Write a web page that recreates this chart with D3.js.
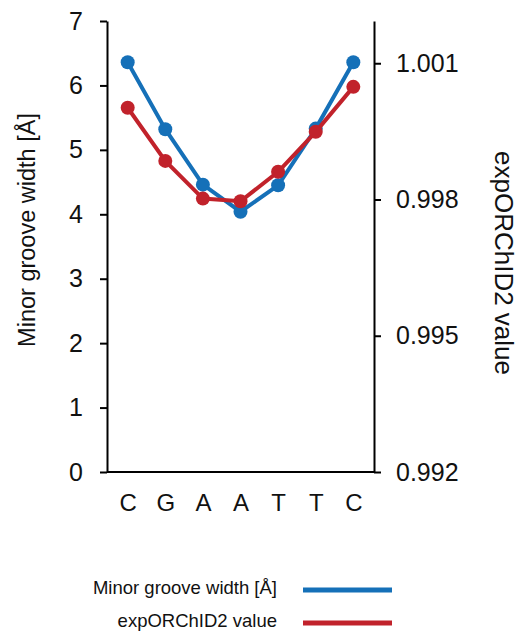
<!DOCTYPE html>
<html>
<head>
<meta charset="utf-8">
<script src="https://cdn.jsdelivr.net/npm/d3@7"></script>
<style>
  body { margin: 0; background: #fff; }
  svg text { font-family: "Liberation Sans", Arial, Helvetica, sans-serif; fill: #111; }
</style>
</head>
<body>
<svg id="chart" width="519" height="634"></svg>
<script>
// bases along the x axis
let bases = ["C", "G", "A", "A", "T", "T", "C"];
// minor groove width in angstrom (left axis)
let grooveWidth = [6.36, 5.32, 4.46, 4.04, 4.45, 5.33, 6.36];
// expORChID2 value (right axis)
let orchidValue = [1.00002, 0.99885, 0.99802, 0.99796, 0.99861, 0.99949, 1.00048];
let leftTicks = [0, 1, 2, 3, 4, 5, 6, 7];
let rightTicks = [0.992, 0.995, 0.998, 1.001];
let seriesNames = ["Minor groove width [Å]", "expORChID2 value"];

let blue = "#1570b8", red = "#c1222b";

let svg = d3.select("#chart");
let x0 = 107, x1 = 374, yTop = 21, yBot = 472;

let x = d3.scalePoint()
    .domain(d3.range(bases.length))
    .range([x0, x1])
    .padding(0.55);

let yL = d3.scaleLinear().domain([0, 7]).range([yBot, yTop]);
let yR = d3.scaleLinear().domain([0.992, 1.00193]).range([yBot, yTop]);

// left axis
let gL = svg.append("g")
    .attr("transform", "translate(" + x0 + ",0)")
    .call(d3.axisLeft(yL).tickValues(leftTicks).tickFormat(d3.format("d"))
      .tickSize(7).tickSizeOuter(0).tickPadding(17));

// right axis
let gR = svg.append("g")
    .attr("transform", "translate(" + x1 + ",0)")
    .call(d3.axisRight(yR).tickValues(rightTicks).tickFormat(d3.format(".3f"))
      .tickSize(7).tickSizeOuter(0).tickPadding(15));

[gL, gR].forEach(g => {
  g.select(".domain").attr("stroke", "#000").attr("stroke-width", 2);
  g.selectAll(".tick line").attr("stroke", "#000").attr("stroke-width", 2);
  g.selectAll(".tick text").attr("font-size", 25).style("font-family", "Liberation Sans, Arial, sans-serif").attr("fill", "#111");
});

// bottom axis - just the baseline and the letters
let gB = svg.append("g")
    .attr("transform", "translate(0," + yBot + ")")
    .call(d3.axisBottom(x).tickSize(0).tickPadding(22).tickFormat(i => bases[i]));
gB.select(".domain").attr("d", "M" + x0 + ",0H" + x1).attr("stroke", "#000").attr("stroke-width", 2);
gB.selectAll(".tick text").attr("font-size", 24).style("font-family", "Liberation Sans, Arial, sans-serif").attr("fill", "#111");

// axis titles
svg.append("text")
    .attr("transform", "translate(35,230) rotate(-90)")
    .attr("text-anchor", "middle")
    .attr("font-size", 23.5)
    .text(seriesNames[0]);

svg.append("text")
    .attr("transform", "translate(495,263) rotate(90)")
    .attr("text-anchor", "middle")
    .attr("font-size", 26)
    .text(seriesNames[1]);

// lines + dots
let series = [
  { vals: grooveWidth, y: yL, color: blue },
  { vals: orchidValue, y: yR, color: red }
];

series.forEach(s => {
  let line = d3.line()
      .x((d, i) => x(i))
      .y(d => s.y(d));
  svg.append("path")
      .datum(s.vals)
      .attr("fill", "none")
      .attr("stroke", s.color)
      .attr("stroke-width", 4)
      .attr("d", line);
  svg.append("g").selectAll("circle")
      .data(s.vals)
      .enter().append("circle")
      .attr("cx", (d, i) => x(i))
      .attr("cy", d => s.y(d))
      .attr("r", 7)
      .attr("fill", s.color);
});

// legend
let legend = svg.append("g");
let legY = [590, 623];
series.forEach((s, i) => {
  legend.append("text")
      .attr("x", 277)
      .attr("y", legY[i] + 4)
      .attr("text-anchor", "end")
      .attr("font-size", 18.5)
      .text(seriesNames[i]);
  legend.append("line")
      .attr("x1", 303).attr("x2", 392)
      .attr("y1", legY[i]).attr("y2", legY[i])
      .attr("stroke", s.color)
      .attr("stroke-width", 5);
});
</script>
</body>
</html>
